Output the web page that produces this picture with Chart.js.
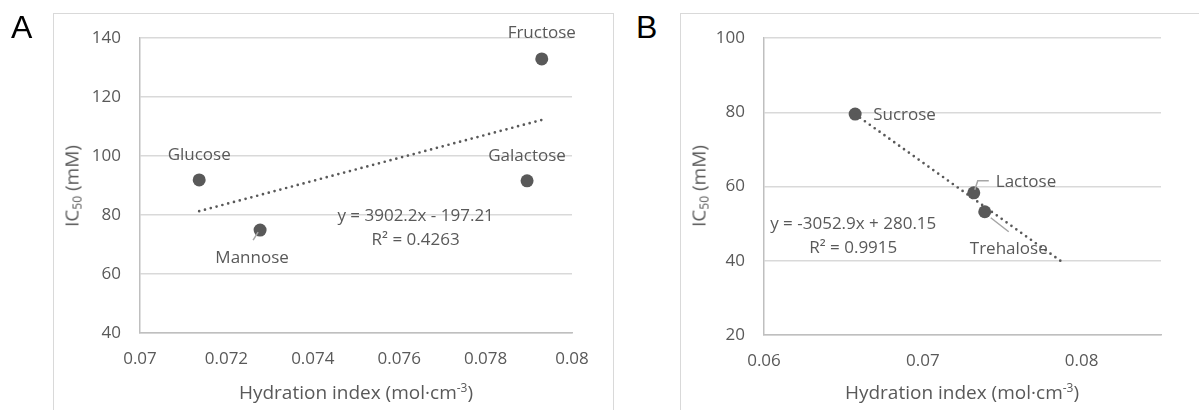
<!DOCTYPE html>
<html>
<head>
<meta charset="utf-8">
<script src="https://cdn.jsdelivr.net/npm/chart.js@4.4.1/dist/chart.umd.min.js"></script>
<style>
  html, body { margin:0; padding:0; background:#fff; }
  #wrap { position:relative; width:1199px; height:410px; overflow:hidden; font-family:"Open Sans", sans-serif; }
  .frame { position:absolute; border:1.5px solid #d9d9d9; box-sizing:border-box; }
  canvas { position:absolute; top:0; }
  .letter { position:absolute; font-family:"Liberation Sans", Arial, sans-serif; font-size:32px; color:#000; line-height:1; }
  .ytitle, .xtitle { position:absolute; color:#595959; font-size:19px; white-space:nowrap; line-height:1; }
  .ytitle { transform:translate(-50%,-50%) rotate(-90deg); }
  .xtitle { transform:translate(-50%,-50%); }
  sub { font-size:12px; vertical-align:-3px; }
  sup { font-size:12px; vertical-align:7px; }
</style>
</head>
<body>
<div id="wrap">
  <div class="frame" style="left:53px; top:13px; width:561px; height:440px;"></div>
  <div class="frame" style="left:680px; top:13px; width:560px; height:440px;"></div>
  <canvas id="chartA" width="613" height="410" style="left:0;"></canvas>
  <canvas id="chartB" width="519" height="410" style="left:680px;"></canvas>
  <div class="letter" style="left:11px; top:11px;">A</div>
  <div class="letter" style="left:636px; top:11px;">B</div>
  <div class="ytitle" style="left:73px; top:186px;">IC<sub>50</sub> (mM)</div>
  <div class="ytitle" style="left:700px; top:186px;">IC<sub>50</sub> (mM)</div>
  <div class="xtitle" style="left:356px; top:392px;">Hydration index (mol·cm<sup>-3</sup>)</div>
  <div class="xtitle" style="left:962px; top:392px;">Hydration index (mol·cm<sup>-3</sup>)</div>
</div>
<script>
// ---- Panel A data ----
const sugarsA = ['Glucose', 'Fructose', 'Galactose', 'Mannose'];
const hydrationA = [0.07137, 0.0793, 0.07896, 0.07278];
const ic50A = [91.9, 132.9, 91.6, 74.9];
const trendA = [3902.2, -197.21];      // slope, intercept
const r2A = '0.4263';
const xTicksA = [0.07, 0.08, 0.002];   // min, max, step
const yTicksA = [40, 140, 20];

// ---- Panel B data ----
const sugarsB = ['Sucrose', 'Lactose', 'Trehalose'];
const hydrationB = [0.06574, 0.07321, 0.0739];
const ic50B = [79.5, 58.3, 53.2];
const trendB = [-3052.9, 280.15];
const r2B = '0.9915';
const trendForwardB = 0.005;
const xTicksB = [0.06, 0.085, 0.01];
const yTicksB = [20, 100, 20];

const FONT = '"Open Sans", sans-serif';
const TXT = '#595959';

function eqText(t) {
  const s = t[0].toFixed(1), b = Math.abs(t[1]).toFixed(2);
  return 'y = ' + s + 'x ' + (t[1] < 0 ? '- ' : '+ ') + b;
}

const annotPlugin = {
  id: 'annot',
  afterDatasetsDraw(chart, args, o) {
    const ctx = chart.ctx, xs = chart.scales.x, ys = chart.scales.y;
    ctx.save();
    ctx.font = '17px ' + FONT;
    ctx.fillStyle = TXT;
    ctx.textBaseline = 'middle';
    o.names.forEach((name, i) => {
      const px = xs.getPixelForValue(o.xv[i]), py = ys.getPixelForValue(o.yv[i]);
      const p = o.place[i];
      if (p.leader) {
        ctx.strokeStyle = '#a6a6a6';
        ctx.lineWidth = 1.5;
        ctx.beginPath();
        p.leader.forEach((q, k) => { k ? ctx.lineTo(px + q[0], py + q[1]) : ctx.moveTo(px + q[0], py + q[1]); });
        ctx.stroke();
      }
      ctx.textAlign = p.align || 'center';
      ctx.fillText(name, px + p.dx, py + p.dy);
    });
    const ex = xs.getPixelForValue(o.eqAt[0]), ey = ys.getPixelForValue(o.eqAt[1]);
    ctx.textAlign = 'center';
    ctx.fillText(o.eq, ex, ey);
    ctx.fillText('R² = ' + o.r2, ex, ey + 24);
    ctx.restore();
  }
};

function makeChart(id, names, xv, yv, trend, trendX, xt, yt, yAxisW, padR, plotH, annot) {
  const pts = xv.map((x, i) => ({ x: x, y: yv[i] }));
  const tpts = trendX.map(x => ({ x: x, y: trend[0] * x + trend[1] }));
  return new Chart(document.getElementById(id), {
    type: 'scatter',
    data: {
      datasets: [
        { type: 'line', data: tpts, borderColor: TXT, borderWidth: 2.7, borderDash: [0, 6],
          borderCapStyle: 'round', pointRadius: 0, fill: false, order: 0 },
        { data: pts, pointRadius: 6.5, pointHoverRadius: 6.5, backgroundColor: TXT, borderWidth: 0, order: 1 }
      ]
    },
    options: {
      responsive: false, animation: false, events: [],
      layout: { padding: { top: 38, right: padR, left: 0, bottom: 0 } },
      plugins: { legend: { display: false }, tooltip: { enabled: false }, annot: annot },
      scales: {
        x: {
          type: 'linear', min: xt[0], max: xt[1],
          ticks: { stepSize: xt[2], includeBounds: false, padding: 16, color: TXT,
                   font: { family: FONT, size: 17 }, maxRotation: 0,
                   callback: v => String(+v.toFixed(4)) },
          grid: { display: false, drawTicks: false },
          border: { display: true, color: '#bfbfbf', width: 1.5 },
          afterFit: s => { s.height = 410 - 38 - plotH; }
        },
        y: {
          min: yt[0], max: yt[1],
          ticks: { stepSize: yt[2], padding: 19, color: TXT, font: { family: FONT, size: 17 } },
          grid: { color: '#d9d9d9', lineWidth: 1.5, drawTicks: false },
          border: { display: true, color: '#bfbfbf', width: 1.5 },
          afterFit: s => { s.width = yAxisW; }
        }
      }
    },
    plugins: [annotPlugin]
  });
}

makeChart('chartA', sugarsA, hydrationA, ic50A, trendA,
  [Math.min(...hydrationA), Math.max(...hydrationA)], xTicksA, yTicksA, 140, 41, 295,
  { names: sugarsA, xv: hydrationA, yv: ic50A, eq: eqText(trendA), r2: r2A, eqAt: [0.07638, 79.7],
    place: [ { dx: 0, dy: -25 }, { dx: 0, dy: -26 }, { dx: 0, dy: -25 },
             { dx: -8, dy: 28, leader: [[-7, 10], [-2, 2]] } ] });

makeChart('chartB', sugarsB, hydrationB, ic50B, trendB,
  [Math.min(...hydrationB), Math.max(...hydrationB) + trendForwardB], xTicksB, yTicksB, 84, 38, 297,
  { names: sugarsB, xv: hydrationB, yv: ic50B, eq: eqText(trendB), r2: r2B, eqAt: [0.06562, 49.9],
    place: [ { dx: 18, dy: 1, align: 'left' },
             { dx: 22, dy: -11, align: 'left', leader: [[1, -3], [4, -12], [15, -12]] },
             { dx: 24, dy: 37, leader: [[6, 6], [24, 20]] } ] });
</script>
</body>
</html>
